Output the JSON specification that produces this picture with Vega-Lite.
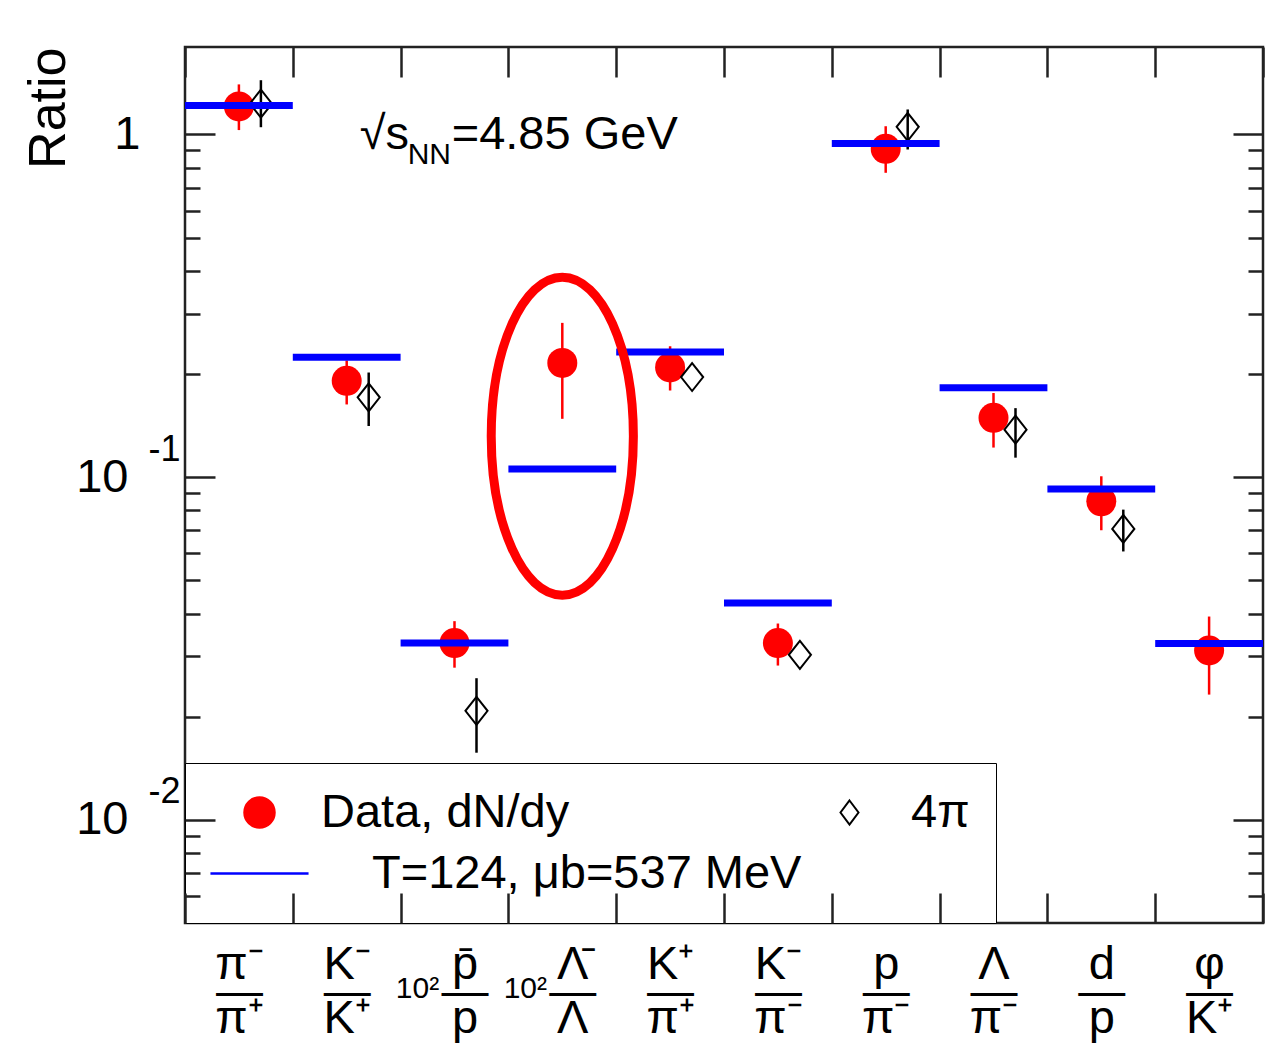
{
  "$schema": "https://vega.github.io/schema/vega-lite/v6.json",
  "width": 1078,
  "height": 876,
  "autosize": {"type": "none"},
  "padding": {"left": 185, "top": 47, "right": 4, "bottom": 133},
  "background": "white",
  "config": {
    "font": "Liberation Sans",
    "view": {"stroke": "#222222", "strokeWidth": 2.5},
    "axis": {
      "domain": false,
      "grid": false,
      "tickColor": "#222222",
      "tickWidth": 2.5,
      "labelColor": "black",
      "labelFont": "Liberation Sans",
      "labelOverlap": false,
      "labelFlush": false,
      "zindex": 3,
      "titleColor": "black",
      "titleFontWeight": "normal"
    }
  },
  "data": {
    "values": [
      {"ratio": "π⁻/π⁺", "series": "Data, dN/dy", "value": 1.207, "lo": 1.03, "hi": 1.40},
      {"ratio": "K⁻/K⁺", "series": "Data, dN/dy", "value": 0.191, "lo": 0.163, "hi": 0.219},
      {"ratio": "10² p̄/p", "series": "Data, dN/dy", "value": 0.0328, "lo": 0.0278, "hi": 0.0380},
      {"ratio": "10² Λ̄/Λ", "series": "Data, dN/dy", "value": 0.2155, "lo": 0.148, "hi": 0.282},
      {"ratio": "K⁺/π⁺", "series": "Data, dN/dy", "value": 0.209, "lo": 0.179, "hi": 0.241},
      {"ratio": "K⁻/π⁻", "series": "Data, dN/dy", "value": 0.0328, "lo": 0.0282, "hi": 0.0374},
      {"ratio": "p/π⁻", "series": "Data, dN/dy", "value": 0.908, "lo": 0.773, "hi": 1.057},
      {"ratio": "Λ/π⁻", "series": "Data, dN/dy", "value": 0.149, "lo": 0.122, "hi": 0.176},
      {"ratio": "d/p", "series": "Data, dN/dy", "value": 0.085, "lo": 0.070, "hi": 0.1006},
      {"ratio": "φ/K⁺", "series": "Data, dN/dy", "value": 0.0312, "lo": 0.0232, "hi": 0.0392},
      {"ratio": "π⁻/π⁺", "series": "4π", "value": 1.23, "lo": 1.05, "hi": 1.44},
      {"ratio": "K⁻/K⁺", "series": "4π", "value": 0.171, "lo": 0.141, "hi": 0.202},
      {"ratio": "10² p̄/p", "series": "4π", "value": 0.0208, "lo": 0.0157, "hi": 0.0259},
      {"ratio": "K⁺/π⁺", "series": "4π", "value": 0.196, "lo": null, "hi": null},
      {"ratio": "K⁻/π⁻", "series": "4π", "value": 0.0303, "lo": null, "hi": null},
      {"ratio": "p/π⁻", "series": "4π", "value": 1.053, "lo": 0.904, "hi": 1.183},
      {"ratio": "Λ/π⁻", "series": "4π", "value": 0.1376, "lo": 0.114, "hi": 0.159},
      {"ratio": "d/p", "series": "4π", "value": 0.0706, "lo": 0.0607, "hi": 0.0804},
      {"ratio": "π⁻/π⁺", "series": "T=124, μb=537 MeV", "value": 1.215},
      {"ratio": "K⁻/K⁺", "series": "T=124, μb=537 MeV", "value": 0.224},
      {"ratio": "10² p̄/p", "series": "T=124, μb=537 MeV", "value": 0.0328},
      {"ratio": "10² Λ̄/Λ", "series": "T=124, μb=537 MeV", "value": 0.1057},
      {"ratio": "K⁺/π⁺", "series": "T=124, μb=537 MeV", "value": 0.232},
      {"ratio": "K⁻/π⁻", "series": "T=124, μb=537 MeV", "value": 0.0429},
      {"ratio": "p/π⁻", "series": "T=124, μb=537 MeV", "value": 0.941},
      {"ratio": "Λ/π⁻", "series": "T=124, μb=537 MeV", "value": 0.1825},
      {"ratio": "d/p", "series": "T=124, μb=537 MeV", "value": 0.0923},
      {"ratio": "φ/K⁺", "series": "T=124, μb=537 MeV", "value": 0.0327}
    ]
  },
  "resolve": {"axis": {"x": "independent", "y": "independent"}},
  "layer": [
    {
      "transform": [{"filter": "datum.series === 'Data, dN/dy' && isValid(datum.lo)"}],
      "mark": {"type": "rule", "strokeWidth": 2.5},
      "encoding": {
        "x": {
          "field": "ratio", "type": "nominal", "sort": null,
          "scale": {"type": "band", "paddingInner": 0, "paddingOuter": 0,
            "domain": ["π⁻/π⁺", "K⁻/K⁺", "10² p̄/p", "10² Λ̄/Λ", "K⁺/π⁺", "K⁻/π⁻", "p/π⁻", "Λ/π⁻", "d/p", "φ/K⁺"]},
          "axis": {"orient": "top", "tickBand": "extent", "tickSize": -30, "labels": false, "title": null, "zindex": 3}
        },
        "y": {
          "field": "lo", "type": "quantitative",
          "scale": {"type": "log", "domain": [0.005, 1.8], "nice": false},
          "axis": {"orient": "left", "values": [0.006, 0.007, 0.008, 0.009, 0.02, 0.03, 0.04, 0.05, 0.06, 0.07, 0.08, 0.09, 0.2, 0.3, 0.4, 0.5, 0.6, 0.7, 0.8, 0.9], "tickSize": -15, "labels": false, "title": null, "zindex": 3}
        },
        "y2": {"field": "hi"},
        "color": {
          "field": "series", "type": "nominal",
          "scale": {"domain": ["Data, dN/dy", "4π", "T=124, μb=537 MeV"], "range": ["#ff0000", "#000000", "#0000ff"]},
          "legend": {
            "title": null,
            "orient": "bottom-left",
            "offset": 0,
            "direction": "horizontal",
            "columns": 2,
            "gridAlign": "none",
            "fillColor": "white",
            "strokeColor": "black",
            "padding": 26,
            "rowPadding": 13,
            "columnPadding": 34,
            "labelFontSize": 47,
            "labelFont": "Liberation Sans",
            "labelColor": "black",
            "labelLimit": 1000,
            "labelOffset": 38,
            "symbolOffset": 25,
            "symbolSize": 900,
            "symbolStrokeWidth": 2.5,
            "symbolOpacity": 1,
            "zindex": 1,
            "encode": {
              "symbols": {"update": {
                "x": {"signal": "datum.value === '4π' ? -187.5 : 48.5"},
                "shape": {"signal": "datum.value === 'Data, dN/dy' ? 'circle' : datum.value === '4π' ? 'M0,-0.8L0.6,0L0,0.8L-0.6,0Z' : 'M-3.27,0L3.27,0'"},
                "fill": {"signal": "datum.value === 'Data, dN/dy' ? '#ff0000' : 'transparent'"},
                "fillOpacity": {"signal": "datum.value === 'Data, dN/dy' ? 1 : 0"},
                "stroke": {"signal": "datum.value === '4π' ? '#000000' : datum.value === 'Data, dN/dy' ? 'transparent' : '#0000ff'"},
                "strokeWidth": {"signal": "datum.value === '4π' ? 2 : 2.5"}
              }},
              "labels": {"update": {
                "dx": {"signal": "datum.value === '4π' ? -236 : datum.value === 'Data, dN/dy' ? 0 : 51"}
              }}
            }
          }
        }
      }
    },
    {
      "transform": [{"filter": "datum.series === 'Data, dN/dy'"}],
      "mark": {"type": "point", "shape": "circle", "filled": true, "size": 900, "opacity": 1},
      "encoding": {
        "x": {
          "field": "ratio", "type": "nominal", "sort": null,
          "axis": {"orient": "bottom", "ticks": false, "labelExpr": "isString(datum.value) && test(/^10²/, datum.value) ? '10²' : ''", "labelFontSize": 30, "labelOffset": -37, "labelPadding": 50, "labelBaseline": "top", "labelAngle": 0, "title": null, "zindex": 3}
        },
        "y": {
          "field": "value", "type": "quantitative",
          "axis": {"orient": "right", "values": [0.01, 0.1, 1], "tickSize": -30, "labels": false, "title": null, "zindex": 3}
        },
        "color": {"field": "series", "type": "nominal"}
      }
    },
    {
      "transform": [{"filter": "datum.series === '4π' && isValid(datum.lo)"}],
      "mark": {"type": "rule", "strokeWidth": 2.5, "xOffset": 22},
      "encoding": {
        "x": {"field": "ratio", "type": "nominal", "sort": null, "axis": null},
        "y": {
          "field": "lo", "type": "quantitative",
          "axis": {"orient": "right", "values": [0.006, 0.007, 0.008, 0.009, 0.02, 0.03, 0.04, 0.05, 0.06, 0.07, 0.08, 0.09, 0.2, 0.3, 0.4, 0.5, 0.6, 0.7, 0.8, 0.9], "tickSize": -15, "labels": false, "title": null, "zindex": 3}
        },
        "y2": {"field": "hi"},
        "color": {"field": "series", "type": "nominal"}
      }
    },
    {
      "transform": [{"filter": "datum.series === '4π'"}],
      "mark": {"type": "point", "shape": "M0,-1L0.79,0L0,1L-0.79,0Z", "filled": false, "size": 784, "strokeWidth": 2, "opacity": 1, "xOffset": 22},
      "encoding": {
        "x": {"field": "ratio", "type": "nominal", "sort": null, "axis": null},
        "y": {
          "field": "value", "type": "quantitative",
          "axis": {"orient": "left", "values": [0.01, 0.1], "ticks": false, "labelExpr": "datum.value < 0.05 ? '-2' : '-1'", "labelFontSize": 36, "labelPadding": 5, "labelOffset": -28, "labelBaseline": "middle", "labelAlign": "right", "title": null, "zindex": 3}
        },
        "color": {"field": "series", "type": "nominal"}
      }
    },
    {
      "transform": [{"filter": "datum.series === 'T=124, μb=537 MeV'"}],
      "mark": {"type": "tick", "thickness": 7, "size": 107.8, "opacity": 1},
      "encoding": {
        "x": {
          "field": "ratio", "type": "nominal", "sort": null,
          "axis": {
            "orient": "bottom", "tickBand": "extent", "tickSize": -30, "title": null, "zindex": 3,
            "labelExpr": "isString(datum.value) ? [replace(split(datum.value, '/')[0], '10² ', ''), '—', split(datum.value, '/')[1]] : ''",
            "labelFontSize": 47, "labelLineHeight": 27, "labelBaseline": "top", "labelAlign": "center", "labelAngle": 0, "labelPadding": 48,
            "labelOffset": {"condition": {"test": "isString(datum.value) && test(/^10²/, datum.value)", "value": 10}, "value": 0}
          }
        },
        "y": {
          "field": "value", "type": "quantitative",
          "axis": {
            "orient": "left", "values": [0.01, 0.1, 1], "tickSize": -30, "zindex": 3,
            "labelExpr": "datum.value >= 1 ? '1' : '10'", "labelFontSize": 47,
            "labelPadding": {"condition": {"test": "datum.value >= 1", "value": 75}, "value": 87},
            "labelBaseline": "middle", "labelAlign": "right",
            "title": "Ratio", "titleFontSize": 52, "titleAnchor": "end", "titlePadding": 0
          }
        },
        "color": {"field": "series", "type": "nominal"}
      }
    },
    {
      "data": {"values": [{}]},
      "mark": {"type": "point", "shape": "M-0.447,0A0.447,1,0,1,0,0.447,0A0.447,1,0,1,0,-0.447,0Z", "filled": false, "size": 101124, "stroke": "#ff0000", "strokeWidth": 9, "opacity": 1},
      "encoding": {
        "x": {"datum": "10² Λ̄/Λ", "type": "nominal", "axis": null},
        "y": {"datum": 0.1317, "type": "quantitative", "axis": null}
      }
    },
    {
      "data": {"values": [{}]},
      "mark": {"type": "text", "text": "√s", "align": "left", "baseline": "alphabetic", "fontSize": 47, "dx": 13, "color": "black"},
      "encoding": {
        "x": {"datum": "K⁻/K⁺", "type": "nominal", "axis": null},
        "y": {"datum": 0.904, "type": "quantitative", "axis": null}
      }
    },
    {
      "data": {"values": [{}]},
      "mark": {"type": "text", "text": "NN", "align": "left", "baseline": "alphabetic", "fontSize": 30, "dx": 61, "dy": 15, "color": "black"},
      "encoding": {
        "x": {"datum": "K⁻/K⁺", "type": "nominal", "axis": null},
        "y": {"datum": 0.904, "type": "quantitative", "axis": null}
      }
    },
    {
      "data": {"values": [{}]},
      "mark": {"type": "text", "text": "=4.85 GeV", "align": "left", "baseline": "alphabetic", "fontSize": 47, "dx": 105, "color": "black"},
      "encoding": {
        "x": {"datum": "K⁻/K⁺", "type": "nominal", "axis": null},
        "y": {"datum": 0.904, "type": "quantitative", "axis": null}
      }
    }
  ]
}
